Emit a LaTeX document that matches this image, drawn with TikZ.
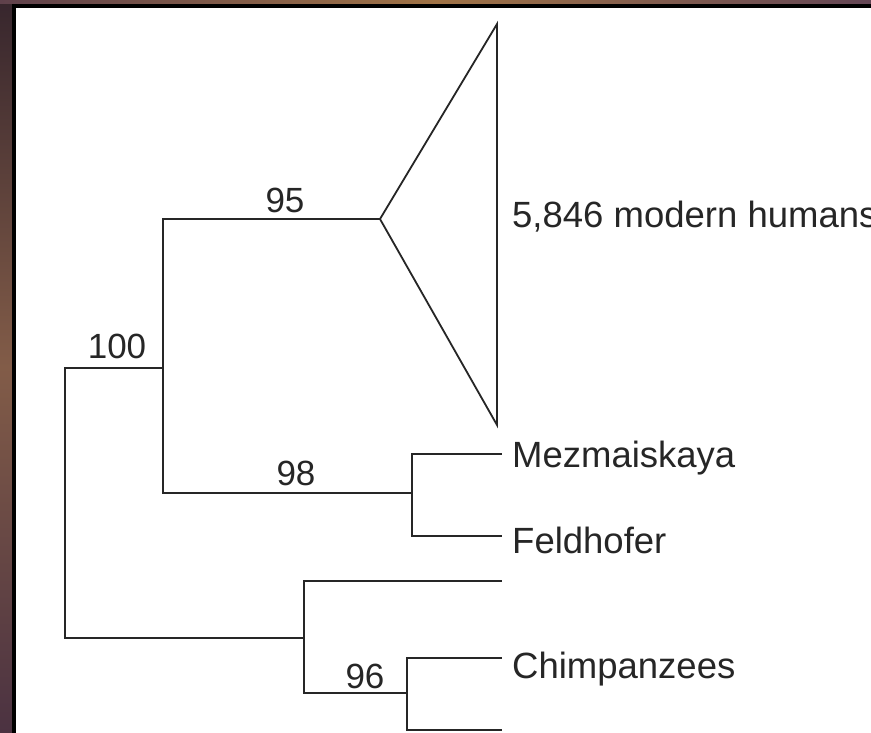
\documentclass[tikz,border=0pt]{standalone}
\usepackage{fontspec}
\setmainfont{Liberation Sans}
\begin{document}
\begin{tikzpicture}[x=1pt,y=-1pt,
  br/.style={draw=black!85,line width=1.8pt,line cap=rect},
  lab/.style={inner sep=0pt,anchor=base,font=\fontsize{35}{40}\selectfont,text=black!85},
  taxon/.style={inner sep=0pt,anchor=base west,font=\fontsize{36.5}{42}\selectfont,text=black!85}]
\useasboundingbox (0,0) rectangle (871,733);
% frame background
\fill[white] (0,0) rectangle (871,733);
\shade[top color={rgb,255:red,55;green,38;blue,45}, bottom color={rgb,255:red,75;green,50;blue,65}, middle color={rgb,255:red,130;green,92;blue,72}] (0,0) rectangle (12,733);
\shade[left color={rgb,255:red,95;green,65;blue,75}, right color={rgb,255:red,100;green,70;blue,85}, middle color={rgb,255:red,160;green,115;blue,70}] (0,0) rectangle (871,4);
\fill[black] (12,4) rectangle (16,733);
\fill[black] (12,4) rectangle (871,8);
% tree coordinates
\coordinate (r) at (65,368);
\coordinate (rt) at (65,368);
\coordinate (rb) at (65,638);
\coordinate (a) at (163,368);
\coordinate (at) at (163,219);
\coordinate (ab) at (163,493);
\coordinate (h) at (380,219);
\coordinate (htop) at (497,24);
\coordinate (hbot) at (497,425);
\coordinate (n) at (412,493);
\coordinate (nt) at (412,454);
\coordinate (nb) at (412,536);
\coordinate (mz) at (501,454);
\coordinate (fd) at (501,536);
\coordinate (c) at (304,638);
\coordinate (ct) at (304,581);
\coordinate (cb) at (304,693);
\coordinate (cu) at (501,581);
\coordinate (p) at (407,693);
\coordinate (pt) at (407,658);
\coordinate (pb) at (407,730);
\coordinate (p1) at (501,658);
\coordinate (p2) at (501,730);
% branches
\draw[br] (rt) -- (rb);
\draw[br] (r) -- (a);
\draw[br] (at) -- (ab);
\draw[br] (at) -- (h);
\draw[br,line join=miter] (htop) -- (h) -- (hbot) -- cycle;
\draw[br] (ab) -- (n);
\draw[br] (nt) -- (nb);
\draw[br] (nt) -- (mz);
\draw[br] (nb) -- (fd);
\draw[br] (rb) -- (c);
\draw[br] (ct) -- (cb);
\draw[br] (ct) -- (cu);
\draw[br] (cb) -- (p);
\draw[br] (pt) -- (pb);
\draw[br] (pt) -- (p1);
\draw[br] (pb) -- (p2);
% labels
\node[lab] (l100) at (117,358) {100};
\node[lab] (l95) at (285,213) {95};
\node[lab] (l98) at (296,485) {98};
\node[lab] (l96) at (365,688) {96};
\node[taxon] (hum) at (512,228) {5,846 modern humans};
\node[taxon] (mez) at (512,467) {Mezmaiskaya};
\node[taxon] (fel) at (512,553) {Feldhofer};
\node[taxon] (chi) at (512,678) {Chimpanzees};
\end{tikzpicture}
\end{document}
